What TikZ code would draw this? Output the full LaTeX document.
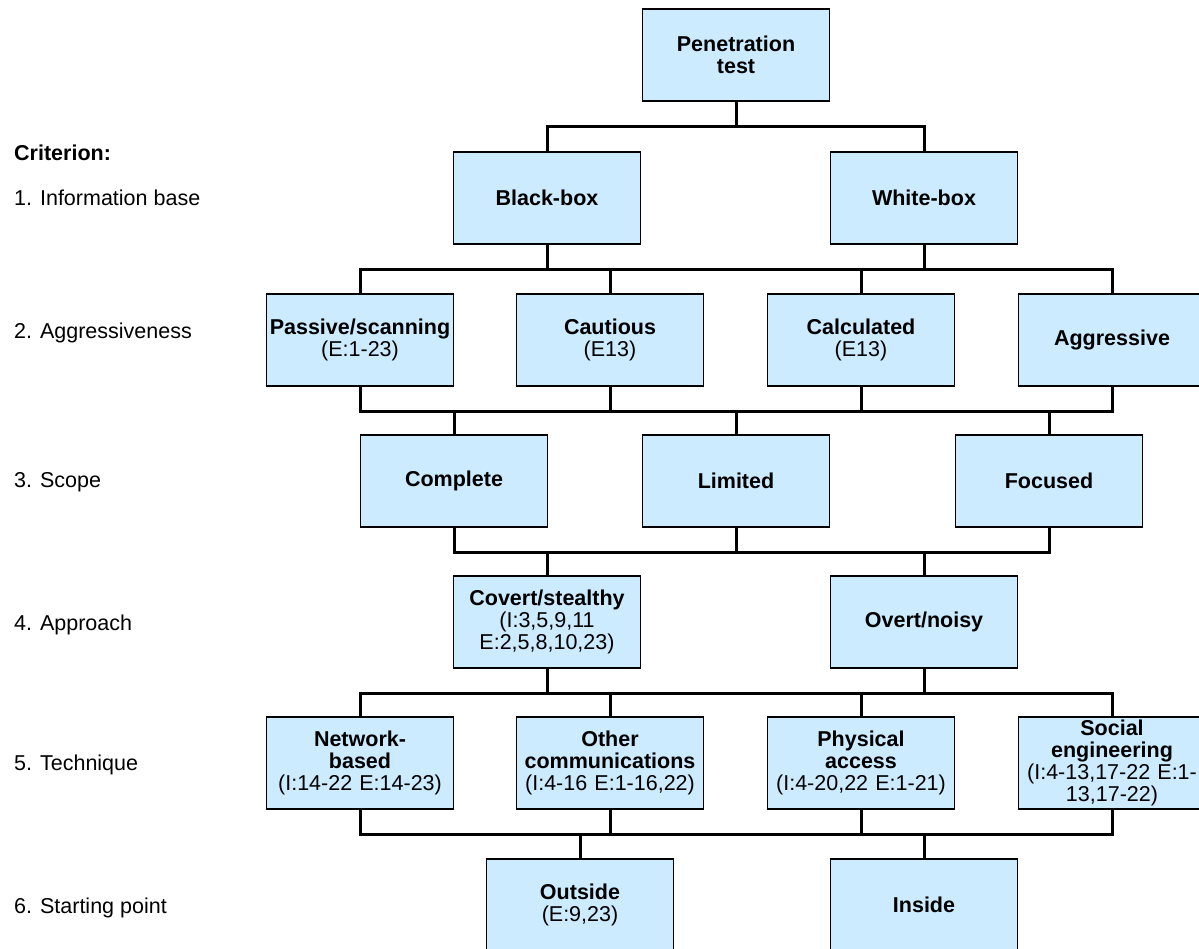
\documentclass[tikz,border=0pt]{standalone}
\usepackage{fontspec}
\setmainfont{Liberation Sans}
\usepackage{tikz}
\definecolor{boxblue}{RGB}{204,235,255}

\tikzset{
  critbox/.style={draw=black, line width=1.5pt, fill=boxblue, text width=187pt,
    minimum height=92pt, inner sep=0pt, align=center,
    font=\fontsize{21.5}{22}\selectfont\bfseries},
  treeline/.style={line width=3pt},
  rowlabel/.style={anchor=west, inner sep=0pt, font=\fontsize{21.5}{22}\selectfont}
}
\newcommand{\sub}[1]{{\mdseries #1}}

\begin{document}
\begin{tikzpicture}[x=1pt,y=-1pt]
  \useasboundingbox (0,0) rectangle (1199,949);
  \clip (0,0) rectangle (1199,949);
  % criterion labels on the left
  \node[rowlabel, font=\fontsize{21.5}{22}\selectfont\bfseries] (c0) at (14,153) {Criterion:};
  \node[rowlabel] (c1) at (14,198) {1. Information base};
  \node[rowlabel] (c2) at (14,333) {2. Aggressiveness};
  \node[rowlabel] (c3) at (14,482) {3. Scope};
  \node[rowlabel] (c4) at (14,625) {4. Approach};
  \node[rowlabel] (c5) at (14,765) {5. Technique};
  \node[rowlabel] (c6) at (14,908) {6. Starting point};
  % root
  \node[critbox] (pen) at (736,55) {Penetration\\test};
  % 1. information base
  \node[critbox] (bb) at (547,198) {Black-box};
  \node[critbox] (wb) at (924,198) {White-box};
  % 2. aggressiveness
  \node[critbox] (pas) at (360,340) {Passive/scanning\\\sub{(E:1-23)}};
  \node[critbox] (cau) at (610,340) {Cautious\\\sub{(E13)}};
  \node[critbox] (cal) at (861,340) {Calculated\\\sub{(E13)}};
  \node[critbox] (agg) at (1112,340) {Aggressive};
  % 3. scope
  \node[critbox] (com) at (454,481) {Complete};
  \node[critbox] (lim) at (736,481) {Limited};
  \node[critbox] (foc) at (1049,481) {Focused};
  % 4. approach
  \node[critbox] (cov) at (547,622) {Covert/stealthy\\\sub{(I:3,5,9,11}\\\sub{E:2,5,8,10,23)}};
  \node[critbox] (ovt) at (924,622) {Overt/noisy};
  % 5. technique
  \node[critbox] (net) at (360,763) {Network-\\based\\\sub{(I:14-22 E:14-23)}};
  \node[critbox] (oth) at (610,763) {Other\\communications\\\sub{(I:4-16 E:1-16,22)}};
  \node[critbox] (phy) at (861,763) {Physical\\access\\\sub{(I:4-20,22 E:1-21)}};
  \node[critbox] (soc) at (1112,763) {Social\\engineering\\\sub{(I:4-13,17-22 E:1-}\\\sub{13,17-22)}};
  % 6. starting point
  \node[critbox] (out) at (580,905) {Outside\\\sub{(E:9,23)}};
  \node[critbox] (ins) at (924,905) {Inside};
  % connectors between levels
  \foreach \c in {bb,wb}
    \draw[treeline] (pen.south) -- ++(0,25) -| (\c.north);
  \foreach \p in {bb,wb}
    \foreach \c in {pas,cau,cal,agg}
      \draw[treeline] (\p.south) -- ++(0,25) -| (\c.north);
  \foreach \p in {pas,cau,cal,agg}
    \foreach \c in {com,lim,foc}
      \draw[treeline] (\p.south) -- ++(0,25) -| (\c.north);
  \foreach \p in {com,lim,foc}
    \foreach \c in {cov,ovt}
      \draw[treeline] (\p.south) -- ++(0,25) -| (\c.north);
  \foreach \p in {cov,ovt}
    \foreach \c in {net,oth,phy,soc}
      \draw[treeline] (\p.south) -- ++(0,25) -| (\c.north);
  \foreach \p in {net,oth,phy,soc}
    \foreach \c in {out,ins}
      \draw[treeline] (\p.south) -- ++(0,25) -| (\c.north);
\end{tikzpicture}
\end{document}
